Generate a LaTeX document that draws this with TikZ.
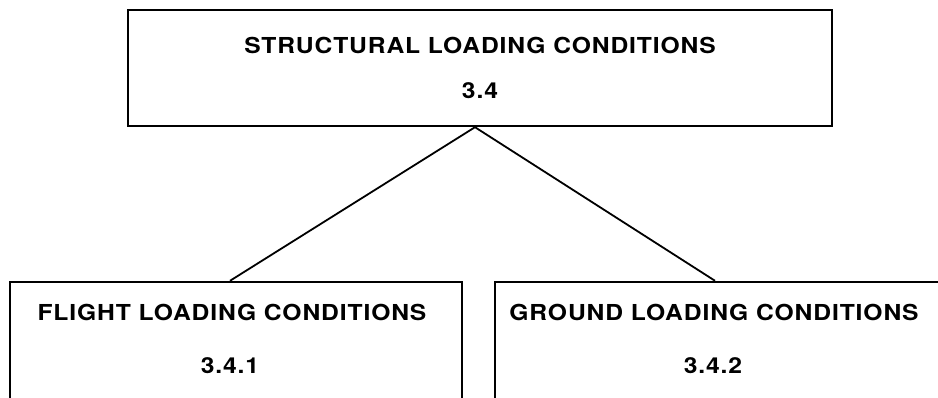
\documentclass[tikz,border=0pt]{standalone}
\usepackage{fontspec}
\newfontfamily\lblfont[FakeStretch=1.12,LetterSpace=4]{TeX Gyre Heros}
\usetikzlibrary{positioning}
\begin{document}
\begin{tikzpicture}[x=1pt,y=-1pt,
        box/.style={draw,line width=2.4pt,inner sep=0pt},
        lbl/.style={anchor=base,inner sep=0pt,font=\lblfont\bfseries\fontsize{22}{26}\selectfont}]
                \useasboundingbox (0,0) rectangle (938,398);
                \node[box,minimum width=704pt,minimum height=116pt] (struct) at (480,68) {};
                \node[box,minimum width=452pt,minimum height=150pt] (flight) at (236,357) {};
                \node[box,minimum width=452pt,minimum height=150pt] (ground) at (721,357) {};
                   \node[lbl] (structname) at ([yshift=-45pt]struct.north) {STRUCTURAL LOADING CONDITIONS};
                   \node[lbl] (structnum) at ([yshift=-90pt]struct.north) {3.4};
                   \node[lbl] (flightname) at ([xshift=-4pt,yshift=-40pt]flight.north) {FLIGHT LOADING CONDITIONS};
                   \node[lbl] (flightnum) at ([xshift=-6pt,yshift=-93pt]flight.north) {3.4.1};
                   \node[lbl] (groundname) at ([xshift=-7pt,yshift=-40pt]ground.north) {GROUND LOADING CONDITIONS};
                   \node[lbl] (groundnum) at ([xshift=-8pt,yshift=-93pt]ground.north) {3.4.2};
                \coordinate (apex) at ([xshift=-5pt]struct.south);
                \draw[line width=1.8pt] (apex)--([xshift=-6pt]flight.north);
                \draw[line width=1.8pt] (apex)--([xshift=-6pt]ground.north);
\end{tikzpicture}
\end{document}
